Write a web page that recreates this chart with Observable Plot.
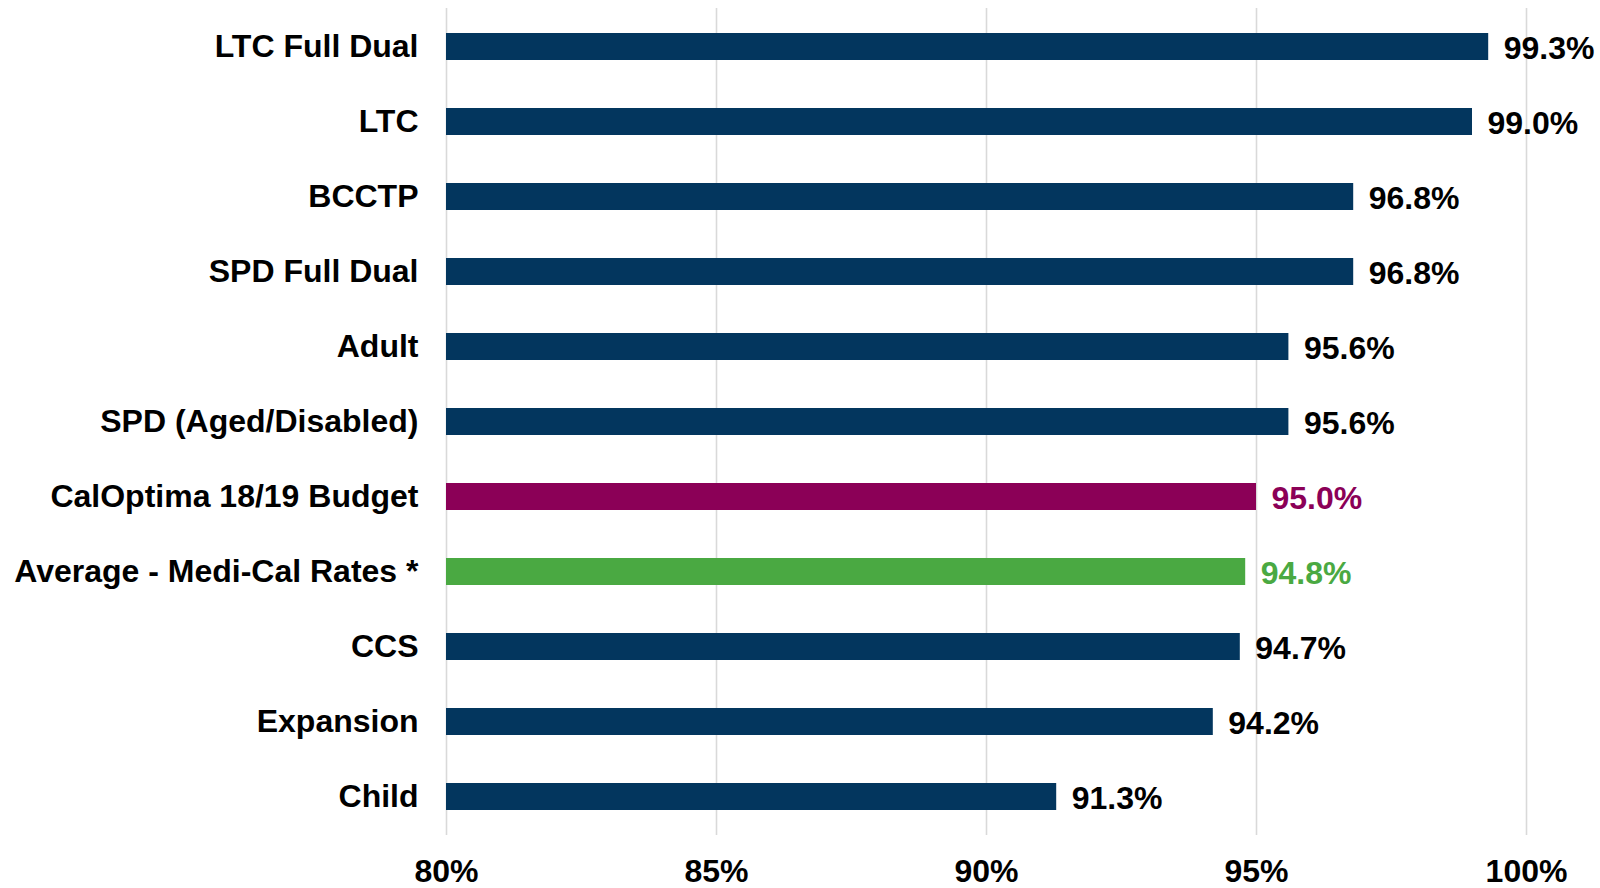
<!DOCTYPE html>
<html>
<head>
<meta charset="utf-8">
<script src="https://cdn.jsdelivr.net/npm/d3@7"></script>
<script src="https://cdn.jsdelivr.net/npm/@observablehq/plot@0.6"></script>
<style>
  html, body { margin: 0; padding: 0; background: #fff; }
  svg { font-family: "Liberation Sans", Arial, sans-serif; font-weight: bold; }
</style>
</head>
<body>
<div id="chart"></div>
<script>
const categories = [
  "LTC Full Dual", "LTC", "BCCTP", "SPD Full Dual", "Adult",
  "SPD (Aged/Disabled)", "CalOptima 18/19 Budget", "Average - Medi-Cal Rates *",
  "CCS", "Expansion", "Child"
];
const values = [99.3, 99.0, 96.8, 96.8, 95.6, 95.6, 95.0, 94.8, 94.7, 94.2, 91.3];
const barColors = ["#03365e", "#03365e", "#03365e", "#03365e", "#03365e", "#03365e",
  "#8b0057", "#4aa942", "#03365e", "#03365e", "#03365e"];
const labelColors = ["#000", "#000", "#000", "#000", "#000", "#000",
  "#8b0057", "#4aa942", "#000", "#000", "#000"];
const xTicks = [80, 85, 90, 95, 100];

const data = categories.map((c, i) => ({
  category: c, value: values[i], bar: barColors[i], label: labelColors[i]
}));

const chart = Plot.plot({
  width: 1600,
  height: 888,
  marginLeft: 446,
  marginRight: 74,
  marginTop: 8,
  marginBottom: 53,
  style: { fontSize: "32px", fontFamily: "'Liberation Sans', Arial, sans-serif", fontWeight: "bold", color: "#000" },
  x: { domain: [80, 100], ticks: xTicks, label: null, tickFormat: d => d + "%" },
  y: { domain: categories, label: null, paddingInner: 0.64, paddingOuter: 0.32 },
  color: { type: "identity" },
  marks: [
    Plot.ruleX(xTicks, { stroke: "#d9d9d9", strokeWidth: 1.6 }),
    Plot.barX(data, { x1: 80, x2: "value", y: "category", fill: "bar" }),
    Plot.text(data, {
      x: "value", y: "category", text: d => d.value.toFixed(1) + "%",
      fill: "label", textAnchor: "start", dx: 15, dy: 2, fontSize: 32, fontWeight: "bold"
    }),
    Plot.axisX({ ticks: xTicks, tickSize: 0, tickPadding: 24, tickFormat: d => d + "%", label: null, fontSize: 32, fontWeight: "bold", fill: "#000" }),
    Plot.axisY({ tickSize: 0, tickPadding: 28, label: null, fontSize: 32, fontWeight: "bold", fill: "#000" })
  ]
});
document.getElementById("chart").appendChild(chart);
</script>
</body>
</html>
